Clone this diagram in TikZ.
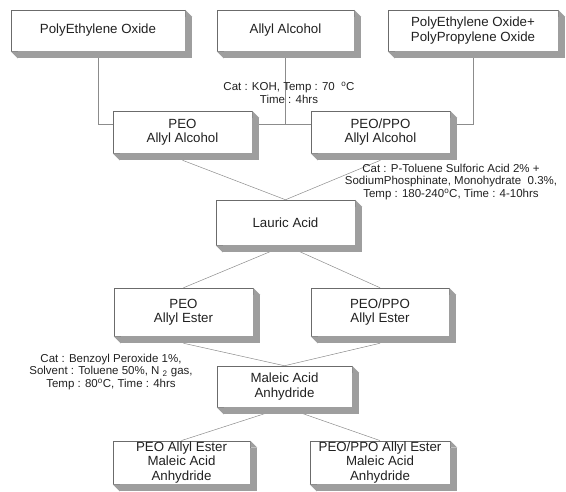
\documentclass[tikz,border=0pt]{standalone}
\usepackage{fontspec}
\setmainfont{Liberation Sans}
\usepackage{tikz}
\definecolor{linegray}{rgb}{0.55,0.55,0.55}
\definecolor{edgegray}{rgb}{0.42,0.42,0.42}
\definecolor{slabgray}{rgb}{0.62,0.62,0.62}
\definecolor{textgray}{rgb}{0.13,0.13,0.13}
\newcommand{\stagefont}{\fontsize{13.3}{14.5}\selectfont}
\newcommand{\notefont}{\fontsize{11.5}{12.6}\selectfont}
\newcommand{\nodeslab}[1]{%
  \coordinate (#1-ne) at (#1.east |- #1.north);
  \coordinate (#1-se) at (#1.east |- #1.south);
  \coordinate (#1-sw) at (#1.west |- #1.south);
  \draw[slabgray, line width=7pt] ([xshift=3.5pt, yshift=-7pt]#1-ne) -- ([xshift=3.5pt, yshift=-7pt]#1-se);
  \draw[slabgray, line width=7pt] ([xshift=7pt, yshift=-3.5pt]#1-sw) -- ([yshift=-3.5pt]#1-se);
  \fill[slabgray] (#1-ne) -- ([xshift=7pt, yshift=-7pt]#1-ne) -- ([yshift=-7pt]#1-ne) -- cycle;
  \fill[slabgray] (#1-sw) -- ([xshift=7pt, yshift=-7pt]#1-sw) -- ([xshift=7pt]#1-sw) -- cycle;}

\begin{document}
\begin{tikzpicture}[x=1pt, y=-1pt,
    stage/.style={draw=edgegray, line width=0.5pt, fill=white, align=center,
      inner xsep=2pt, inner ysep=1pt, font=\stagefont, text=textgray,
      minimum width=139pt, minimum height=42pt},
    note/.style={align=center, inner sep=0pt, font=\notefont, text=textgray},
    link/.style={draw=linegray, line width=0.5pt}]
  \useasboundingbox (0,0) rectangle (566,491);

  \node[stage, minimum width=174pt, minimum height=41pt] (peo) at (98,30.5) {PolyEthylene Oxide};
  \node[stage, minimum width=137pt, minimum height=41pt] (allyl) at (285.5,30.5) {Allyl Alcohol};
  \node[stage, minimum width=170pt, minimum height=41pt] (peoppo) at (473,30.5) {PolyEthylene Oxide+\\PolyPropylene Oxide};
  \node[stage] (peoalc) at (182.5,132) {PEO\\Allyl Alcohol};
  \node[stage] (ppoalc) at (380.5,132) {PEO/PPO\\Allyl Alcohol};
  \node[stage, minimum height=45pt] (lauric) at (285.5,222.5) {Lauric Acid};
  \node[stage, minimum height=48pt] (peoest) at (183.5,312) {PEO\\Allyl Ester};
  \node[stage, minimum width=138pt, minimum height=48pt] (ppoest) at (380,312) {PEO/PPO\\Allyl Ester};
  \node[stage, minimum width=135pt, minimum height=41pt] (maleic) at (284.5,386.5) {Maleic Acid\\Anhydride};
  \node[stage, minimum width=137pt, minimum height=41pt] (peomal) at (181.5,462.5) {PEO Allyl Ester\\Maleic Acid\\Anhydride};
  \node[stage, minimum width=140pt, minimum height=41pt] (ppomal) at (380,462.5) {PEO/PPO Allyl Ester\\Maleic Acid\\Anhydride};

  \coordinate (tee) at ([yshift=8pt]ppoalc.west);
  \draw[link] (peo.south) |- ([yshift=8pt]peoalc.west);
  \draw[link] ([yshift=8pt]peoalc.east) -- (tee);
  \draw[link] (allyl.south) -- (allyl.south |- tee);
  \draw[link] (peoppo.south) |- ([yshift=8pt]ppoalc.east);
  \draw[link] ([yshift=-7pt]peoalc.south) -- (lauric.north);
  \draw[link] ([yshift=-7pt]ppoalc.south) -- (lauric.north);
  \draw[link] (lauric.south) -- (peoest.north);
  \draw[link] (lauric.south) -- (ppoest.north);
  \draw[link] ([yshift=-7pt]peoest.south) -- (maleic.north);
  \draw[link] ([yshift=-7pt]ppoest.south) -- (maleic.north);
  \draw[link] (maleic.south) -- (peomal.north);
  \draw[link] (maleic.south) -- (ppomal.north);

  \nodeslab{peo}
  \nodeslab{allyl}
  \nodeslab{peoppo}
  \nodeslab{peoalc}
  \nodeslab{ppoalc}
  \nodeslab{lauric}
  \nodeslab{peoest}
  \nodeslab{ppoest}
  \nodeslab{maleic}
  \nodeslab{peomal}
  \nodeslab{ppomal}

  \node[note] (koh) at (289,93) {Cat : KOH, Temp : 70~~\textsuperscript{o}C\\Time : 4hrs};
  \node[note] (ptsa) at (451,182) {Cat : P-Toluene Sulforic Acid 2\% +\\SodiumPhosphinate, Monohydrate~~0.3\%,\\Temp : 180-240\textsuperscript{o}C, Time : 4-10hrs};
  \node[note] (bpo) at (111,372) {Cat : Benzoyl Peroxide 1\%,\\Solvent : Toluene 50\%, N~\textsubscript{2} gas,\\Temp : 80\textsuperscript{o}C, Time : 4hrs};
\end{tikzpicture}
\end{document}
